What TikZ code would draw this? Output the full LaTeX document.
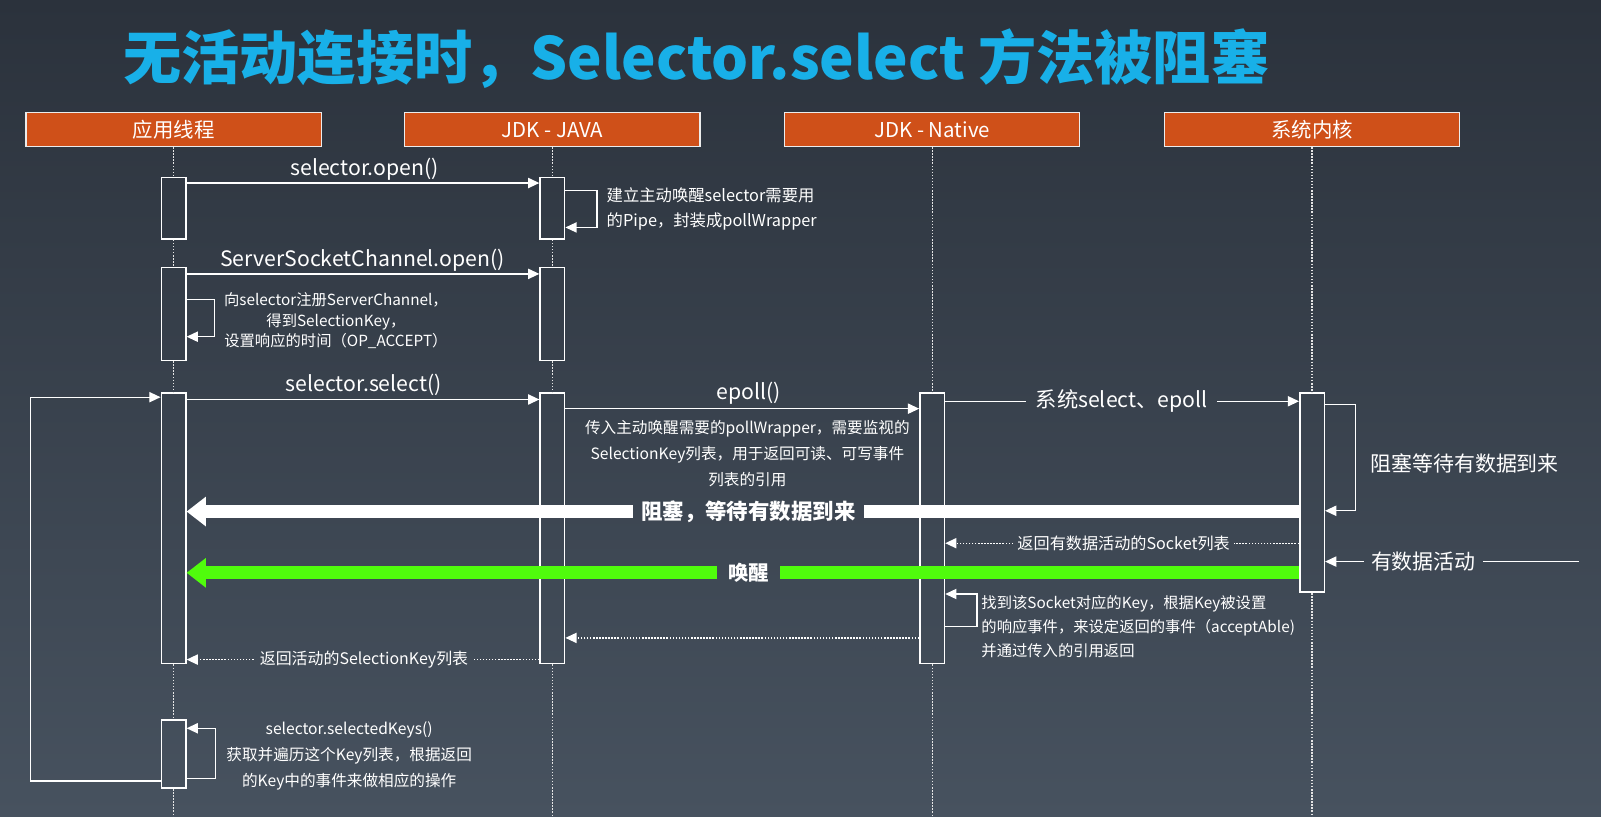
\documentclass[tikz,border=0pt]{standalone}
\usepackage{fontspec}
\setmainfont{Noto Sans CJK SC}
\usetikzlibrary{arrows.meta,positioning}

\definecolor{bgtop}{RGB}{43,50,60}
\definecolor{bgbot}{RGB}{71,82,95}
\definecolor{hdrred}{RGB}{207,80,25}
\definecolor{titleblue}{RGB}{24,176,232}
\definecolor{wakegreen}{RGB}{80,252,12}

\tikzset{
  lane/.style={draw=white!85!gray, line width=1.2pt, fill=hdrred, text=white,
    minimum width=289pt, minimum height=33pt, inner sep=0pt, font=\fontsize{20}{24}\selectfont},
  act/.style={draw=white, line width=1.5pt, minimum width=24pt, inner sep=0pt},
  life/.style={draw=white!80!gray, line width=1.2pt, dash pattern=on 1.5pt off 1.5pt},
  msg/.style={draw=white, line width=1.3pt, -{Triangle[length=11pt,width=10pt]}},
  ret/.style={msg, dash pattern=on 1.5pt off 1.5pt},
  call/.style={text=white, inner sep=0pt, font=\fontsize{20.8}{24}\selectfont},
  note/.style={text=white, inner sep=0pt, font=\fontsize{15.5}{25}\selectfont},
  bigbar/.style={line width=13pt},
  bigtip/.style={-{Triangle[length=19pt,width=28pt]}},
  bigtxt/.style={text=white, inner ysep=0pt, font=\bfseries\fontsize{21}{25}\selectfont},
}

\begin{document}
\begin{tikzpicture}[x=1pt,y=-1pt]
	\shade[top color=bgtop, bottom color=bgbot] (0,0) rectangle (1568,800);
	\useasboundingbox (0,0) rectangle (1568,800);

	\node[text=titleblue, font=\bfseries\fontsize{57}{60}\selectfont] (title) at (682,57) {无活动连接时，Selector.select 方法被阻塞};

	% lanes
	\node[lane] (hApp) at (170,127) {应用线程};
	\node[lane] (hJava) at (541,127) {JDK - JAVA};
	\node[lane] (hNative) at (913,127) {JDK - Native};
	\node[lane] (hKernel) at (1285,127) {系统内核};

	% activations
	\node[act, minimum height=60pt] (a1) at (170,204) {};
	\node[act, minimum height=60pt] (b1) at (541,204) {};
	\node[act, minimum height=91pt] (a2) at (170,307.5) {};
	\node[act, minimum height=91pt] (b2) at (541,307.5) {};
	\node[act, minimum height=265pt] (a3) at (170,517.5) {};
	\node[act, minimum height=265pt] (b3) at (541,517.5) {};
	\node[act, minimum height=265pt] (c1) at (913,517.5) {};
	\node[act, minimum height=195pt] (d1) at (1285,482.5) {};
	\node[act, minimum height=67pt] (a4) at (170,738.5) {};

	\coordinate (floor) at (0,800);
	\draw[life] (hApp.south) -- (a1.north) (a1.south) -- (a2.north) (a2.south) -- (a3.north) (a3.south) -- (a4.north) (a4.south) -- (a4.south |- floor);
	\draw[life] (hJava.south) -- (b1.north) (b1.south) -- (b2.north) (b2.south) -- (b3.north) (b3.south) -- (b3.south |- floor);
	\draw[life] (hNative.south) -- (c1.north) (c1.south) -- (c1.south |- floor);
	\draw[life] (hKernel.south) -- (d1.north) (d1.south) -- (d1.south |- floor);

	% open
	\draw[msg] ([yshift=-6pt]a1.north east) -- ([yshift=-6pt]b1.north west);
	\node[call] (openLbl) at (357,166) {selector.open()};
	\draw[msg] ([yshift=-13pt]b1.north east) -- ++(31,0) |- ([yshift=12pt]b1.south east);
	\node[note, font=\fontsize{16}{25}\selectfont, anchor=west, align=left] (pipeLbl) at (594,204.5) {建立主动唤醒selector需要用\\的Pipe，封装成pollWrapper};

	\draw[msg] ([yshift=-7pt]a2.north east) -- ([yshift=-7pt]b2.north west);
	\node[call] (sscLbl) at (355,255) {ServerSocketChannel.open()};
	\draw[msg] ([yshift=-32pt]a2.north east) -- ++(27,0) |- ([yshift=24pt]a2.south east);
	\node[note, font=\fontsize{15}{20}\selectfont, align=center] (regLbl) at (329,314) {向selector注册ServerChannel，\\得到SelectionKey，\\设置响应的时间（OP\_ACCEPT）};

	% select loop
	\coordinate (loopTop) at (30,389);
	\draw[msg] ([yshift=8pt]a4.south west) -| (loopTop) -- (loopTop -| a3.west);

	\draw[msg] ([yshift=-7pt]a3.north east) -- ([yshift=-7pt]b3.north west);
	\node[call] (selLbl) at (356,377) {selector.select()};

	\draw[msg] ([yshift=-16pt]b3.north east) -- ([yshift=-16pt]c1.north west);
	\node[call] (epollLbl) at (733,385) {epoll()};
	\node[note, font=\fontsize{15.3}{25.5}\selectfont, align=center] (epollNote) at (732,444) {传入主动唤醒需要的pollWrapper，需要监视的\\SelectionKey列表，用于返回可读、可写事件\\列表的引用};

	\node[call, inner xsep=9pt] (sysLbl) at (1098.5,393) {系统select、epoll};
	\draw[draw=white, line width=1.3pt] (c1.east |- sysLbl) -- (sysLbl.west);
	\draw[msg] (sysLbl.east) -- (sysLbl -| d1.west);

	\draw[msg] ([yshift=-12pt]d1.north east) -- ++(30,0) |- ([yshift=-116pt]d1.north east);
	\node[call, font=\fontsize{20.5}{24}\selectfont, anchor=west] (waitLbl) at (1342,454) {阻塞等待有数据到来};

	% blocked
	\node[bigtxt, inner xsep=8pt] (blockLbl) at (733,501) {阻塞，等待有数据到来};
	\draw[white, bigbar] (d1.west |- blockLbl) -- (blockLbl.east);
	\draw[white, bigbar, bigtip] (blockLbl.west) -- (a3.east |- blockLbl);

	\node[note, font=\fontsize{15.8}{25}\selectfont, inner xsep=4pt] (sockLbl) at (1100.5,532) {返回有数据活动的Socket列表};
	\draw[ret, -] (d1.west |- sockLbl) -- (sockLbl.east);
	\draw[ret] (sockLbl.west) -- (sockLbl -| c1.east);

	\coordinate (dataSrc) at (1546,550);
	\node[call, font=\fontsize{20.5}{24}\selectfont, inner xsep=7pt] (dataLbl) at (1394,550) {有数据活动};
	\draw[draw=white, line width=1.3pt] (dataSrc) -- (dataLbl.east);
	\draw[msg] (dataLbl.west) -- (dataLbl -| d1.east);

	% wake up
	\node[bigtxt, font=\bfseries\fontsize{20}{24}\selectfont, inner xsep=11pt] (wakeLbl) at (733,561) {唤醒};
	\draw[wakegreen, bigbar] (d1.west |- wakeLbl) -- (wakeLbl.east);
	\draw[wakegreen, bigbar, bigtip] (wakeLbl.west) -- (a3.east |- wakeLbl);

	\draw[msg] ([yshift=37pt]c1.south east) -- ++(31,0) |- ([yshift=69pt]c1.south east);
	\node[note, font=\fontsize{15}{23.5}\selectfont, anchor=west, align=left] (keyLbl) at (961,613.5) {找到该Socket对应的Key，根据Key被设置\\的响应事件，来设定返回的事件（acceptAble)\\并通过传入的引用返回};

	% returns
	\draw[ret] ([yshift=26pt]c1.south west) -- ([yshift=26pt]b3.south east);
	\node[note, font=\fontsize{15.6}{25}\selectfont, inner xsep=6pt] (retLbl) at (356.5,646) {返回活动的SelectionKey列表};
	\draw[ret, -] (b3.west |- retLbl) -- (retLbl.east);
	\draw[ret] (retLbl.west) -- (retLbl -| a3.east);

	\draw[msg] ([yshift=10pt]a4.south east) -- ++(28,0) |- ([yshift=-9pt]a4.north east);
	\node[note, font=\fontsize{15.3}{25.5}\selectfont, align=center] (keysLbl) at (342,740) {selector.selectedKeys()\\获取并遍历这个Key列表，根据返回\\的Key中的事件来做相应的操作};

\end{tikzpicture}
\end{document}
